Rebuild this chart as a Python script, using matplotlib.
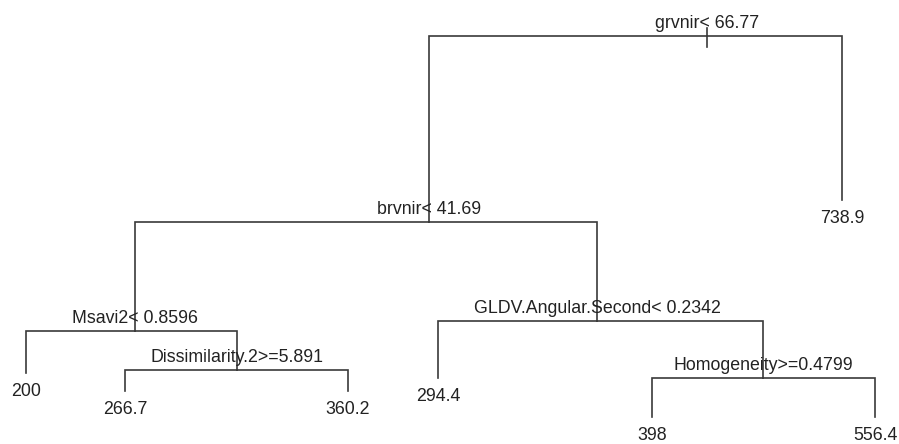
import matplotlib
matplotlib.use("Agg")
import matplotlib.pyplot as plt
from matplotlib import font_manager

# Tree structure (rpart-style regression tree)
node_ids     = ["root", "brvnir", "msavi", "dissim", "gldv", "homog",
                "L200", "L266", "L360", "L294", "L398", "L556", "L739"]
node_parent  = [None, "root", "brvnir", "msavi", "brvnir", "gldv",
                "msavi", "dissim", "dissim", "gldv", "homog", "homog", "root"]
split_labels = {"root": "grvnir< 66.77", "brvnir": "brvnir< 41.69",
                "msavi": "Msavi2< 0.8596", "dissim": "Dissimilarity.2>=5.891",
                "gldv": "GLDV.Angular.Second< 0.2342",
                "homog": "Homogeneity>=0.4799"}
leaf_values  = {"L200": "200", "L266": "266.7", "L360": "360.2",
                "L294": "294.4", "L398": "398", "L556": "556.4", "L739": "738.9"}
# layout coordinates of the nodes as drawn by the tree plot
node_x = [707, 429, 135, 237, 597, 763, 26, 125, 348, 438, 652, 875, 842]
node_y = [36, 222, 331, 370, 321, 378, 373, 391, 391, 378, 417, 417, 200]

names = [f.name for f in font_manager.fontManager.ttflist]
fam = ["Liberation Sans", "DejaVu Sans"]
fam = [f for f in fam if f in names] or ["DejaVu Sans"]

W, H = 899, 444
fig = plt.figure(figsize=(W / 100, H / 100), dpi=100)
ax = fig.add_axes([0, 0, 1, 1])
ax.set_xlim(0, W)
ax.set_ylim(H, 0)
ax.axis("off")

pos = {n: (x, y) for n, x, y in zip(node_ids, node_x, node_y)}
lc = "#3a3a3a"
lw = 1.2
for n, p in zip(node_ids, node_parent):
    x, y = pos[n]
    if p is None:
        ax.plot([x, x], [y - 8, y + 11], color=lc, lw=lw)
        continue
    px, py = pos[p]
    ax.plot([px, x, x], [py, py, y], color=lc, lw=lw, solid_joinstyle="miter")

fs = 12.8
for n, lab in split_labels.items():
    x, y = pos[n]
    ax.text(x, y - 13, lab, ha="center", va="center", fontsize=fs,
            family=fam, color="#222222")
for n, lab in leaf_values.items():
    x, y = pos[n]
    ax.text(x, y + 18, lab, ha="center", va="center", fontsize=fs,
            family=fam, color="#222222")

fig.savefig("out.png", dpi=100, facecolor="white")
